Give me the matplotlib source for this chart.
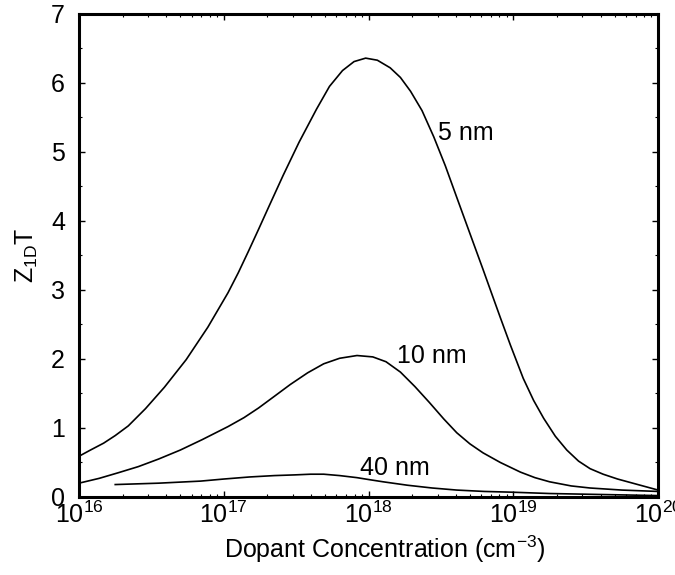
import numpy as np
import matplotlib
matplotlib.use('Agg')
import matplotlib.pyplot as plt
from matplotlib.ticker import LogLocator, MultipleLocator

plt.rcParams['font.family'] = ['Liberation Sans', 'DejaVu Sans']
plt.rcParams['mathtext.fontset'] = 'custom'
plt.rcParams['mathtext.rm'] = 'Liberation Sans'
plt.rcParams['mathtext.it'] = 'Liberation Sans:italic'

# ---- data (cm^-3, Z1D*T) ----
conc_5nm = [1.0e16, 1.20e16, 1.48e16, 1.78e16, 2.19e16, 2.88e16, 3.89e16,
            5.50e16, 7.76e16, 1.07e17, 1.26e17, 1.48e17, 1.74e17, 2.04e17,
            2.57e17, 3.31e17, 4.37e17, 5.37e17, 6.61e17, 7.94e17, 9.55e17,
            1.15e18, 1.41e18, 1.66e18, 1.95e18, 2.34e18, 2.82e18, 3.39e18,
            4.07e18, 5.01e18, 6.17e18, 7.08e18, 8.13e18, 9.55e18, 1.17e19,
            1.38e19, 1.62e19, 1.95e19, 2.34e19, 2.82e19, 3.39e19, 4.17e19,
            5.25e19, 7.24e19, 1.0e20]
zt_5nm = [0.59, 0.68, 0.78, 0.89, 1.03, 1.28, 1.59,
          1.99, 2.46, 2.96, 3.25, 3.56, 3.88, 4.20,
          4.66, 5.14, 5.62, 5.95, 6.18, 6.31, 6.36,
          6.33, 6.22, 6.08, 5.88, 5.60, 5.22, 4.80,
          4.34, 3.82, 3.30, 2.95, 2.60, 2.20, 1.72,
          1.40, 1.14, 0.88, 0.68, 0.52, 0.41, 0.33,
          0.26, 0.18, 0.10]

conc_10nm = [1.0e16, 1.38e16, 1.86e16, 2.57e16, 3.55e16, 5.01e16, 7.08e16,
             1.07e17, 1.38e17, 1.74e17, 2.24e17, 2.88e17, 3.80e17, 4.90e17,
             6.31e17, 8.32e17, 1.07e18, 1.32e18, 1.66e18, 2.09e18, 2.63e18,
             3.31e18, 4.07e18, 5.01e18, 6.17e18, 8.13e18, 1.12e19, 1.41e19,
             1.78e19, 2.51e19, 3.39e19, 5.62e19, 1.0e20]
zt_10nm = [0.20, 0.27, 0.35, 0.44, 0.55, 0.68, 0.83,
           1.02, 1.15, 1.29, 1.46, 1.63, 1.80, 1.93,
           2.01, 2.05, 2.03, 1.96, 1.81, 1.60, 1.37,
           1.13, 0.93, 0.77, 0.64, 0.50, 0.36, 0.28,
           0.22, 0.16, 0.13, 0.10, 0.08]

conc_40nm = [1.78e16, 3.55e16, 6.92e16, 1.0e17, 1.51e17, 2.24e17, 3.09e17,
             3.98e17, 4.90e17, 6.31e17, 8.32e17, 1.02e18, 1.26e18, 1.86e18,
             2.75e18, 4.07e18, 6.31e18, 9.55e18, 1.78e19, 3.16e19, 1.0e20]
zt_40nm = [0.18, 0.20, 0.23, 0.26, 0.29, 0.31, 0.32,
           0.33, 0.33, 0.31, 0.28, 0.25, 0.22, 0.17,
           0.13, 0.10, 0.08, 0.07, 0.05, 0.04, 0.02]

labels = ['5 nm', '10 nm', '40 nm']
label_x = [3.0e18, 1.58e18, 8.7e17]
label_y = [5.27, 2.04, 0.42]

FS = 18

fig = plt.figure(figsize=(6.75, 5.75), dpi=100)
ax = fig.add_axes([0.117, 0.1357, 0.858, 0.840])

for xs, ys in [(conc_5nm, zt_5nm), (conc_10nm, zt_10nm), (conc_40nm, zt_40nm)]:
    ax.plot(xs, ys, color='black', linewidth=1.2, solid_joinstyle='round')

for lab, lx, ly in zip(labels, label_x, label_y):
    ax.text(lx, ly, lab, fontsize=FS, ha='left', va='center')

ax.set_xscale('log')
ax.set_xlim(1e16, 1e20)
ax.set_ylim(0, 7)
ax.xaxis.set_major_locator(LogLocator(base=10, numticks=10))
ax.xaxis.set_minor_locator(LogLocator(base=10, subs=np.arange(2, 10), numticks=50))
ax.yaxis.set_major_locator(MultipleLocator(1))
ax.yaxis.set_minor_locator(MultipleLocator(0.5))

ax.tick_params(which='both', direction='in', top=True, right=True, labelsize=FS)
ax.tick_params(which='major', length=4, width=1)
ax.tick_params(which='minor', length=2.5, width=0.8)
ax.tick_params(axis='y', pad=10)
ax.tick_params(axis='x', pad=3)
for sp in ax.spines.values():
    sp.set_linewidth(2.2)

ax.set_xlabel(r'Dopant Concentration (cm$^{-3}$)', fontsize=FS, labelpad=2)
ax.xaxis.set_label_coords(0.528, -0.075)
ax.set_ylabel(r'Z$_{\mathrm{1D}}$T', fontsize=FS, labelpad=8)

plt.savefig('out.png', dpi=100)
plt.close()
